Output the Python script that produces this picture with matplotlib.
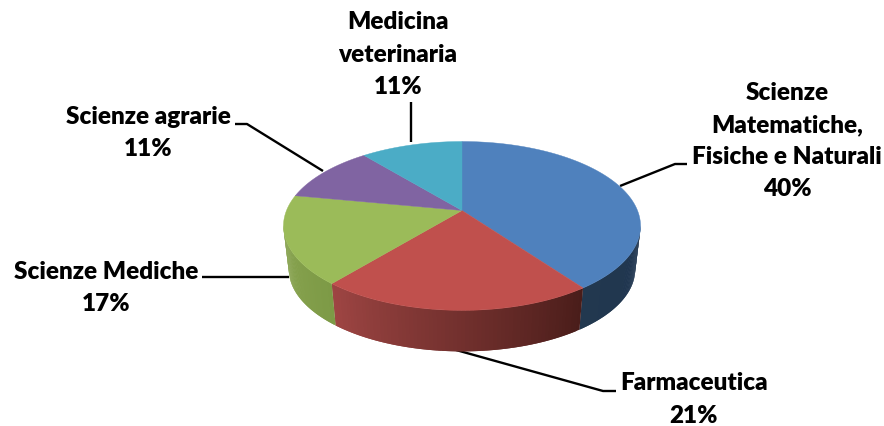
import numpy as np
import matplotlib
matplotlib.use("Agg")
import matplotlib.pyplot as plt
from matplotlib.colors import to_rgb

categories = ["Scienze\nMatematiche,\nFisiche e Naturali", "Farmaceutica", "Scienze Mediche",
              "Scienze agrarie", "Medicina\nveterinaria"]
values = [40, 21, 17, 11, 11]
top_colors = ["#4F81BD", "#C0504D", "#9BBB59", "#8064A2", "#4BACC6"]
side_start = ["#1F3550", "#4A1D1A", "#7D9A46", "#6A5088", "#3A8AA0"]
side_end = ["#22384F", "#9E4543", "#8BA652", "#6A5088", "#3A8AA0"]

W, H = 884, 427
CX, CY, A, B, K = 462, 211.5, 175.5, 81.6, 0.183
DEPTH_SCALE, DEPTH = 0.97, 44
label_pos = [(787, 141), (694, 399.5), (106, 288), (148, 133), (398, 54.5)]
leaders = [[(620, 187), (675, 165), (687, 165)],
           [(456, 351), (603, 392), (616, 392)],
           [(289, 278), (202, 278)],
           [(323, 172), (247, 125), (235, 125)],
           [(411, 143), (411, 103)]]


def rim(theta):
    s, c = np.sin(theta), np.cos(theta)
    d = 1 + K * c
    return A * s / d, -B * c / d


fig = plt.figure(figsize=(W / 100, H / 100), dpi=100)
ax = fig.add_axes([0, 0, 1, 1])
ax.set_xlim(0, W)
ax.set_ylim(H, 0)
ax.axis("off")

fracs = np.array(values, dtype=float) / sum(values)
edges = np.concatenate([[0], np.cumsum(fracs)]) * 2 * np.pi

# leader lines sit behind the pie
for pts in leaders:
    xs, ys = zip(*pts)
    ax.plot(xs, ys, color="black", lw=1.7, zorder=1, solid_capstyle="butt")

# side wall: each strip overlaps the next one so no seams appear
for i in range(len(values)):
    t0, t1 = edges[i], edges[i + 1]
    lo, hi = max(t0, np.radians(100)), min(t1, np.radians(260))
    if hi <= lo:
        continue
    ts = np.linspace(lo, hi, 70)
    c0, c1 = np.array(to_rgb(side_start[i])), np.array(to_rgb(side_end[i]))
    for j in range(len(ts) - 1):
        xa, ya = rim(ts[j:j + 3])
        xt, yt = CX + xa, CY + ya
        xb, yb = CX + DEPTH_SCALE * xa, CY + DEPTH + DEPTH_SCALE * ya
        col = c0 + (c1 - c0) * (j / (len(ts) - 2))
        ax.fill(np.r_[xt, xb[::-1]], np.r_[yt, yb[::-1]], color=col, lw=0, zorder=2)

# top face
for i in range(len(values)):
    ts = np.linspace(edges[i], edges[i + 1], 120)
    x, y = rim(ts)
    ax.fill(np.r_[CX, CX + x], np.r_[CY, CY + y], color=top_colors[i], lw=0.3, zorder=3)

# labels
for name, v, (lx, ly) in zip(categories, values, label_pos):
    ax.text(lx, ly, f"{name}\n{v}%", ha="center", va="center", fontsize=17.5,
            fontweight="heavy", family="Lato", color="black", linespacing=1.56, zorder=4)

fig.savefig("out.png", dpi=100, facecolor="white")
